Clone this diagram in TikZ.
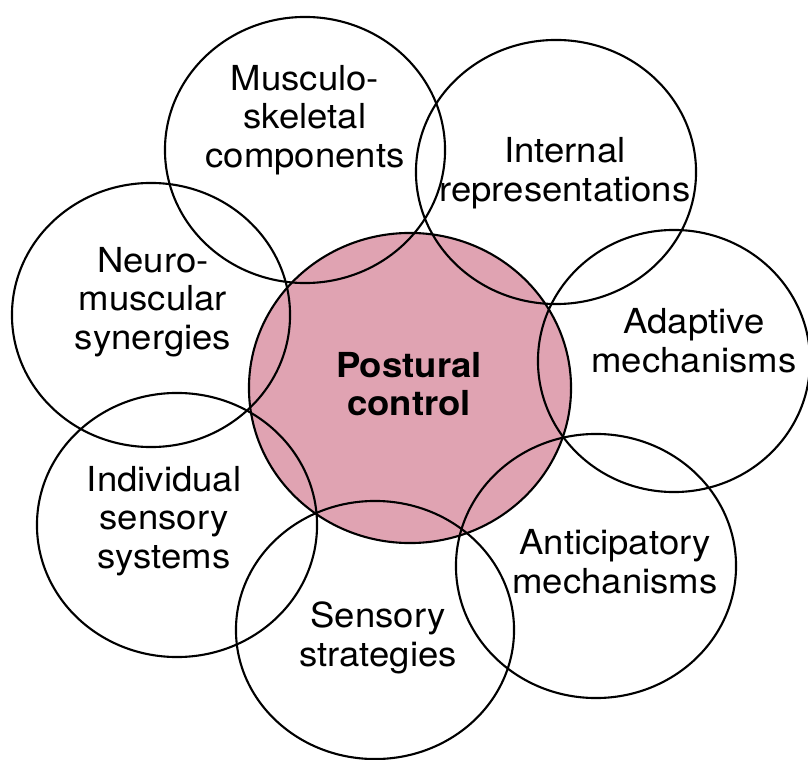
\documentclass[tikz,border=0pt]{standalone}
\usepackage{fontspec}
\setmainfont{TeX Gyre Heros}[FakeStretch=1.06]
\usetikzlibrary{shapes.geometric}
\definecolor{posturepink}{RGB}{224,163,178}

\begin{document}
\begin{tikzpicture}[x=0.025cm, y=-0.025cm,
	every node/.style={font=\fontsize{24.5}{27.5}\selectfont, align=center},
	ring/.style 2 args={ellipse, draw, line width=1.5pt, inner sep=0pt, minimum width=#1*0.05cm, minimum height=#2*0.05cm}]
	\useasboundingbox (0,0) rectangle (808,760);
	\node[ring={161}{155}, fill=posturepink] (core) at (410,388) {};
	\node[ring={140}{133}] (musc) at (305,150) {};
	\node[ring={140}{132}] (intern) at (556,172) {};
	\node[ring={136}{131}] (adapt) at (674,361) {};
	\node[ring={140}{132}] (antic) at (596,566) {};
	\node[ring={139}{129}] (strat) at (375,630) {};
	\node[ring={140}{132}] (indiv) at (177,525) {};
	\node[ring={139}{132}] (neuro) at (151,315) {};
	\node[font=\fontsize{24.5}{27.5}\selectfont\bfseries] (core-t) at (409,384) {Postural\\control};
	\node (musc-t) at (305,120) {Musculo-\\skeletal\\components};
	\node (intern-t) at (565,173) {Internal\\representations};
	\node (adapt-t) at (694,341) {Adaptive\\mechanisms};
	\node (antic-t) at (615,562) {Anticipatory\\mechanisms};
	\node (strat-t) at (378,638) {Sensory\\strategies};
	\node (indiv-t) at (164,521) {Individual\\sensory\\systems};
	\node (neuro-t) at (153,302) {Neuro-\\muscular\\synergies};
\end{tikzpicture}
\end{document}
